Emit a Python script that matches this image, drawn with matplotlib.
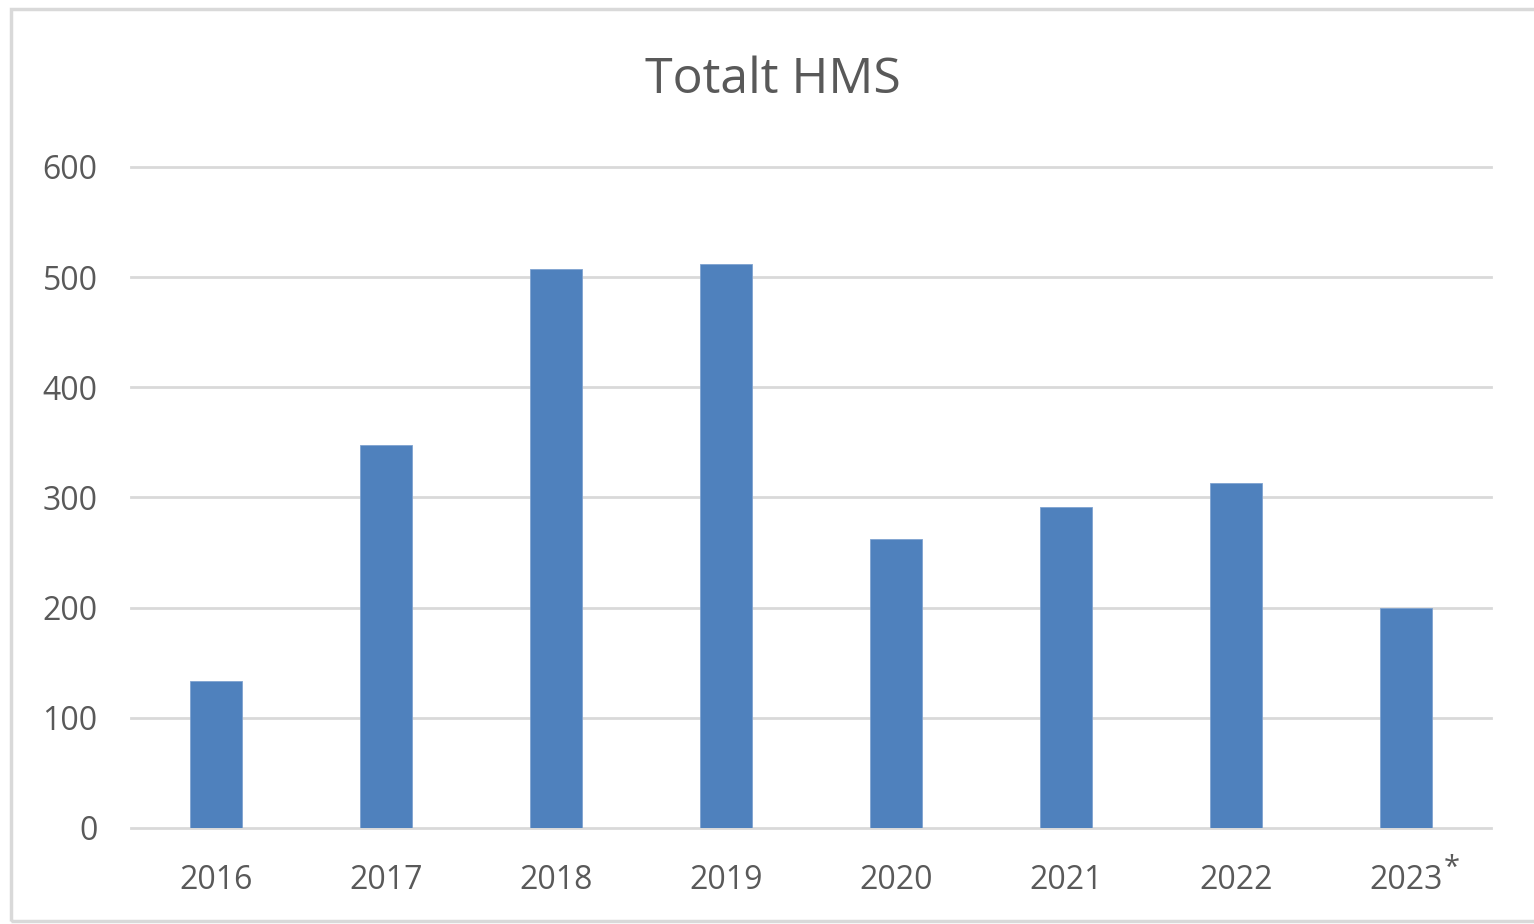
import matplotlib
matplotlib.use("Agg")
import matplotlib.pyplot as plt
from matplotlib.patches import Rectangle

# data
years = ["2016", "2017", "2018", "2019", "2020", "2021", "2022", "2023"]
year_marks = ["", "", "", "", "", "", "", "*"]
totals = [133, 348, 507, 512, 262, 291, 313, 200]
y_ticks = [0, 100, 200, 300, 400, 500, 600]

plt.rcParams['font.family'] = ['Open Sans', 'DejaVu Sans']
text_col = '#595959'
grid_col = '#D9D9D9'
bar_col = '#4F81BD'

W, H = 1534, 924
fig = plt.figure(figsize=(W / 100, H / 100), dpi=100)
fig.patch.set_facecolor('white')

# chart border (the right edge is cut off in the reference)
fig.patches.append(Rectangle((11 / W, 1 - 921 / H), 1600 / W, 912 / H,
                             transform=fig.transFigure, fill=False,
                             edgecolor=grid_col, linewidth=2.5))

ax = fig.add_axes([131 / W, 1 - 828 / H, (1491 - 131) / W, (828 - 167) / H])
x = range(len(years))
ax.bar(x, totals, width=0.31, color=bar_col, edgecolor='#7FA3D0',
       linewidth=0.6, zorder=3)

ax.set_xlim(-0.5, len(years) - 0.5)
ax.set_ylim(0, 600)
ax.set_yticks(y_ticks)
ax.set_yticklabels([str(v) for v in y_ticks])
ax.set_xticks(list(x))
ax.set_xticklabels(years)
ax.tick_params(axis='both', length=0, labelsize=23, colors=text_col)
ax.tick_params(axis='y', pad=24)
ax.tick_params(axis='x', pad=26)
ax.grid(axis='y', color=grid_col, linewidth=2, zorder=0)
for gl in ax.get_ygridlines():
    gl.set_clip_on(False)
for s in ax.spines.values():
    s.set_visible(False)

# footnote marks after the year labels
for i, m in enumerate(year_marks):
    if m:
        ax.annotate(m, xy=(i, 0), xycoords=('data', 'axes fraction'),
                    xytext=(27, -19), textcoords='offset points',
                    ha='left', va='top', fontsize=21, color=text_col)

fig.text(773 / W, 1 - 80 / H, "Totalt HMS", ha='center', va='center',
         fontsize=36, color=text_col)

fig.savefig("out.png", dpi=100)
